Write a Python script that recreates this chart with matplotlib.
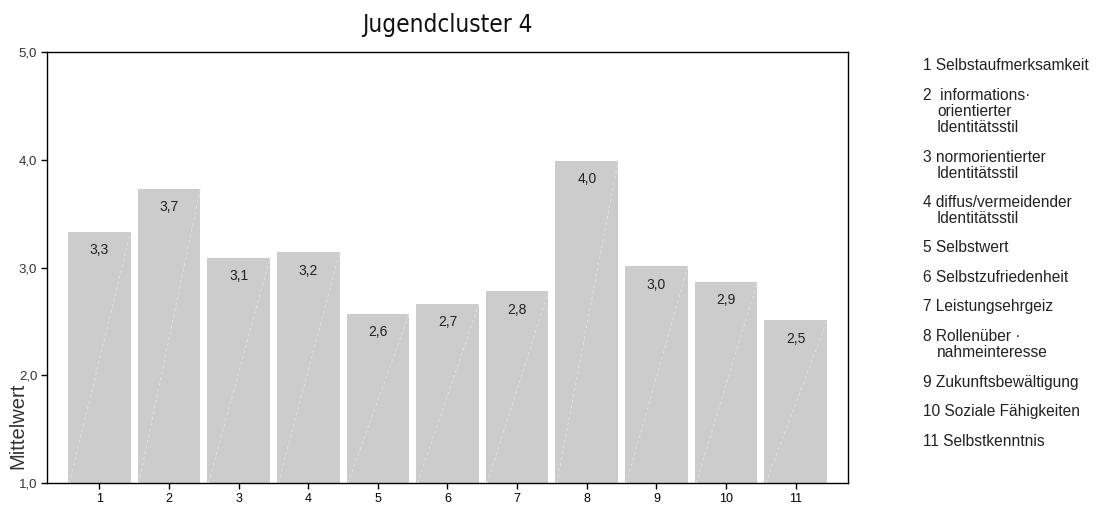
import matplotlib
matplotlib.use("Agg")
import matplotlib.pyplot as plt
import numpy as np

plt.rcParams['font.family'] = ['Liberation Sans', 'DejaVu Sans']

# cluster means per scale
scales = [1, 2, 3, 4, 5, 6, 7, 8, 9, 10, 11]
means = [3.33, 3.73, 3.09, 3.14, 2.57, 2.66, 2.78, 3.99, 3.01, 2.87, 2.51]
labels = ["3,3", "3,7", "3,1", "3,2", "2,6", "2,7", "2,8", "4,0", "3,0", "2,9", "2,5"]
yticks = [1.0, 2.0, 3.0, 4.0, 5.0]
yticklabels = ["1,0", "2,0", "3,0", "4,0", "5,0"]

# legend entries, one list per scale (continuation lines indented)
legend_entries = [
    ["1 Selbstaufmerksamkeit"],
    ["2  informations·", "orientierter", "Identitätsstil"],
    ["3 normorientierter", "Identitätsstil"],
    ["4 diffus/vermeidender", "Identitätsstil"],
    ["5 Selbstwert"],
    ["6 Selbstzufriedenheit"],
    ["7 Leistungsehrgeiz"],
    ["8 Rollenüber ·", "nahmeinteresse"],
    ["9 Zukunftsbewältigung"],
    ["10 Soziale Fähigkeiten"],
    ["11 Selbstkenntnis"],
]

W, H = 1099, 507
fig = plt.figure(figsize=(W / 100, H / 100), dpi=100)
ax = fig.add_axes([47 / W, 1 - 483 / H, (848 - 47) / W, (483 - 52) / H])

width = 0.9
base = 1.0
bars = ax.bar(scales, np.array(means) - base, bottom=base, width=width,
              color="#cccccc", edgecolor="none", zorder=2)

# faint diagonal stroke in every bar
for x, m in zip(scales, means):
    ax.plot([x - width / 2 + 0.02, x + width / 2], [base, m], color="#e2e2e2",
            lw=0.6, ls=(0, (4, 3)), zorder=3)

for x, m, lab in zip(scales, means, labels):
    ax.text(x, m - 0.17, lab, ha="center", va="center", fontsize=10,
            color="#222222", zorder=4)

ax.set_xlim(0.25, 11.75)
ax.set_ylim(1.0, 5.0)
ax.set_xticks(scales)
ax.set_xticklabels([str(s) for s in scales], fontsize=9)
ax.set_yticks(yticks)
ax.set_yticklabels(yticklabels, fontsize=9.5, color="#333333")
ax.tick_params(axis="both", direction="out", length=4, width=1, pad=3)
for sp in ax.spines.values():
    sp.set_linewidth(1.0)

ax.set_ylabel("Mittelwert", fontsize=14.5, color="#333333")
ax.yaxis.set_label_coords(-0.024, 0.133)

fig.text((47 + 848) / 2 / W, 1 - 25 / H, "Jugendcluster 4",
         family=['DejaVu Sans'], fontstretch='condensed',
         fontsize=17.5, ha="center", va="center", color="#111111")

# legend column on the right
y = 66
for entry in legend_entries:
    for i, line in enumerate(entry):
        xpos = 923 if i == 0 else 937
        fig.text(xpos / W, 1 - y / H, line, fontsize=11.2, ha="left",
                 va="center", color="#222222")
        if i < len(entry) - 1:
            y += 16
    y += 29.5

fig.savefig("out.png", dpi=100)
